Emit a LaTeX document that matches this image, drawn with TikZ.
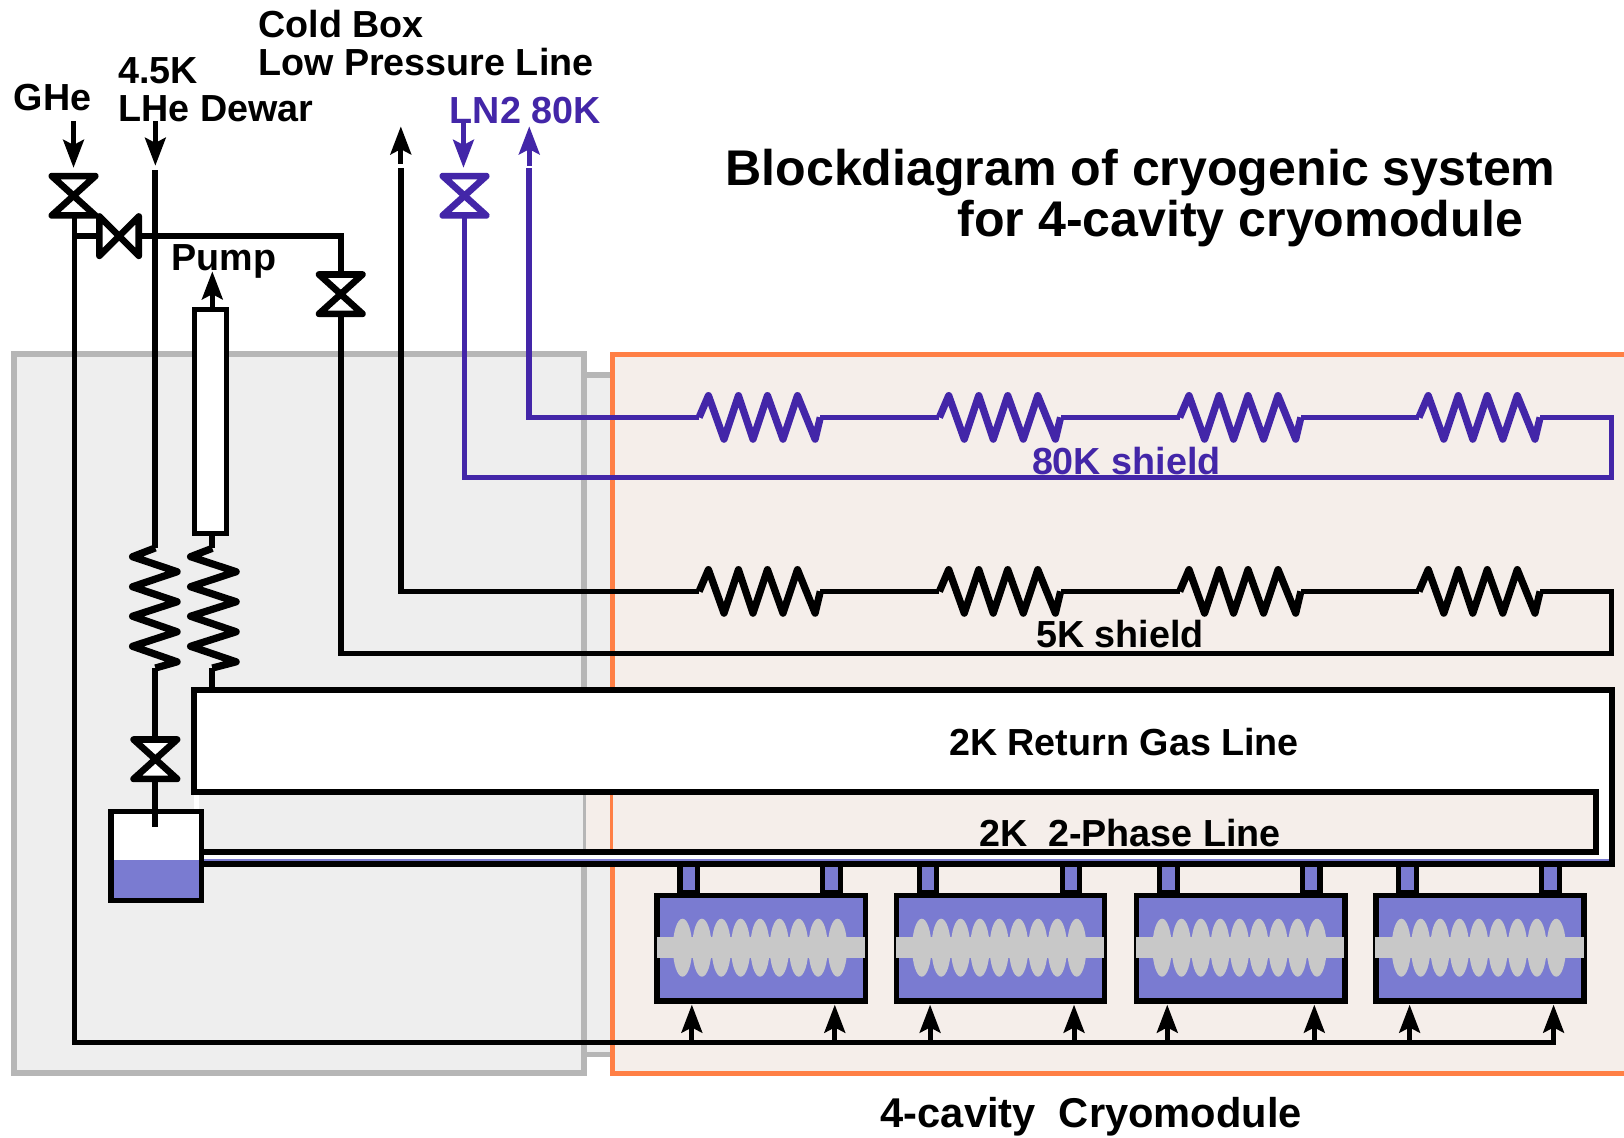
\documentclass[tikz,border=0pt]{standalone}
\usepackage{fontspec}
\setmainfont{Liberation Sans}[BoldFont={Liberation Sans Bold}]
\usetikzlibrary{arrows.meta}
\definecolor{cgray}{HTML}{B6B6B6}
\definecolor{cgrayfill}{HTML}{EEEEEE}
\definecolor{corange}{HTML}{FF7F45}
\definecolor{corangefill}{HTML}{F5EEEA}
\definecolor{cpurple}{HTML}{4326A8}
\definecolor{cblue}{HTML}{7A7BD1}
\definecolor{ccav}{HTML}{C8C8C8}
\tikzset{
  box/.style={outer sep=0pt,inner sep=0pt},
  pipe/.style={line width=2.8pt,line join=miter,line cap=rect},
  heavy/.style={line width=2.9pt,line join=miter,line cap=rect},
  coil/.style={line width=3.5pt,line join=round,line cap=butt},
  flow/.style={line width=2.4pt,-{Stealth[length=13.5pt,width=10pt,inset=2.5pt]}},
  lbl/.style={inner sep=0pt,anchor=west,font=\fontsize{18.2}{20}\selectfont\bfseries,text=black},
  ttl/.style={inner sep=0pt,anchor=west,font=\fontsize{24.2}{28}\selectfont\bfseries,text=black},
  vvalve/.pic={\draw[line width=3.2pt,fill=white,line join=round,pic actions] (-21,-19)--(21,-19)--(-21,19)--(21,19)--cycle;},
  hvalve/.pic={\draw[line width=3.2pt,fill=white,line join=round,pic actions] (-19,-19)--(-19,19)--(19,-19)--(19,19)--cycle;},
}
\newcommand{\shieldcoil}[3]{% x start, y mid, colour
  \draw[coil,#3] (#1,#2)--++(9,-21)--++(15,42)--++(14,-42)--++(14,42)--++(14,-42)--++(15,42)--++(14,-42)--++(17,42)--++(5,-21);}
\newcommand{\cryounit}[2]{% name, x left
  \node[box,draw=black,line width=2.5pt,fill=cblue,minimum width=8.5pt,minimum height=14pt,anchor=south] (#1s1) at (#2+33,862) {};
  \node[box,draw=black,line width=2.5pt,fill=cblue,minimum width=8.5pt,minimum height=14pt,anchor=south] (#1s2) at (#2+171,862) {};
  \node[box,draw=black,line width=2.6pt,fill=cblue,minimum width=100.5pt,minimum height=51pt,anchor=north west] (#1) at (#2+2.5,864.5) {};
  \foreach \k in {0,...,8}{\fill[ccav] (#2+27+18.7*\k,915) ellipse [x radius=9.3,y radius=28];}
  \fill[ccav] (#2+2,905) rectangle (#2+203,925);
}
\begin{document}
\begin{tikzpicture}[x=0.5pt,y=-0.5pt]
\useasboundingbox (0,0) rectangle (1568,1098);
\fill[white] (0,0) rectangle (1568,1098);
% enclosures
\node[box,draw=cgray,line width=2.6pt,fill=cgrayfill,minimum width=30pt,minimum height=328pt,anchor=north west] (link) at (534,362) {};
\node[box,draw=cgray,line width=2.8pt,fill=cgrayfill,minimum width=275.25pt,minimum height=347pt,anchor=north west] (coldbox) at (13.5,342) {};
\fill[corangefill] (591,342) rectangle (1568,1036);
\draw[corange,line width=2.4pt] (1568,342)--(591,342)--(591,1036)--(1568,1036);
% coordinates
\coordinate (ghein) at (71,117);
\coordinate (ghetip) at (71,162);
\coordinate (vg) at (71,189);
\coordinate (vh) at (115,228);
\coordinate (vs) at (329,284);
\coordinate (vl) at (150,733);
\coordinate (vn) at (448.5,189);
\coordinate (hdin) at (150,117);
\coordinate (hdtip) at (150,160);
\coordinate (lnin) at (447.5,117);
\coordinate (lntip) at (447.5,162);
% 2K lines
\fill[white] (187,666)--(1556,666)--(1556,834)--(187,834)--cycle;
\fill[corangefill] (591,765) rectangle (1541,823);
\fill[cgrayfill] (192,765) rectangle (564,823);
\fill[cgray] (562.5,765) rectangle (565.5,823);
\fill[corangefill] (565.5,765) rectangle (590,823);
\fill[corange] (589,765) rectangle (592,823);
\fill[cblue] (192,829) rectangle (1554,832);
% cryo units
\cryounit{cmA}{632}
\cryounit{cmB}{863}
\cryounit{cmC}{1095}
\cryounit{cmD}{1326}
% 2K strokes
\draw[heavy] (192,834) -- (1556,834) -- (1556,666) -- (187,666) -- (187,765) -- (1541,765) -- (1541,823) -- (192,823);
% tank
\fill[white] (107,783) rectangle (192,830);
\fill[cblue] (107,830) rectangle (192,869);
\node[box,draw=black,line width=2.8pt,minimum width=43.5pt,minimum height=43pt,anchor=north west] (tank) at (107.5,783.5) {};
% feed line
\coordinate (feedtop) at (72,212);
\coordinate (feedcorner) at (72,1007);
\coordinate (feedend) at (1500,1007);
\draw[pipe,line width=2.4pt] (feedtop) -- (feedcorner) -- (feedend);
\draw[pipe] (72,228) -- (vh);
\foreach \x/\n in {668/a,806/b,898/c,1037/d,1127/e,1269/f,1361/g,1500/h}{
  \coordinate (f\n) at (\x,1007);
  \coordinate (t\n) at (\x,970);
  \draw[flow] (f\n) -- (t\n);
}
% valve line
\coordinate (c1) at (329,228);
\coordinate (c2) at (329,631);
\coordinate (c3) at (1556,631);
\coordinate (c4) at (1556,571);
\coordinate (c5) at (387,571);
\coordinate (c6) at (387,165);
\coordinate (c7) at (387,158);
\coordinate (c8) at (387,122);
\draw[pipe] (vh) -- (c1) -- (c2) -- (c3) -- (c4) -- (c5) -- (c6);
\draw[flow] (c7) -- (c8);
\foreach \x in {675,907,1139,1370}{
  \fill[corangefill] (\x,540) rectangle (\x+117,600);
  \shieldcoil{\x}{571}{black}
}
% helium line and coils
\coordinate (lhe1) at (150,167);
\coordinate (lhe2) at (150,529);
\draw[pipe] (lhe1) -- (lhe2);
\fill[cgrayfill] (120,529) rectangle (236,645);
\draw[coil] (lhe2)--(128,537.5)--(171,552)--(128,566.5)--(171,581)--(128,595)--(171,610)--(128,624)--(171,639)--(150,645);
\draw[pipe,line cap=butt] (150,645) -- (vl) -- (150,798);
\draw[coil] (205,529.4)--(184,537.5)--(228,552)--(184,566.5)--(228,581)--(184,595)--(228,610)--(184,624)--(228,639)--(205,645);
\draw[pipe,line cap=butt] (205,515)--(205,529.4);
\draw[pipe,line cap=butt] (205,645)--(205,666);
\node[box,draw=black,line width=2.6pt,fill=white,minimum width=15.5pt,minimum height=108pt,anchor=north] (pump) at (203,299) {};
\coordinate (pumpout) at (205,299);
\coordinate (pumptip) at (205,262);
\draw[flow] (pumpout) -- (pumptip);
\draw[flow] (ghein) -- (ghetip);
\draw[flow] (hdin) -- (hdtip);
% valves
\pic at (vg) {vvalve};
\pic at (vh) {hvalve};
\pic at (vs) {vvalve};
\pic at (vl) {vvalve};
% LN2
\coordinate (n1) at (448.5,461);
\coordinate (n2) at (1556,461);
\coordinate (n3) at (1556,403);
\coordinate (n4) at (511,403);
\coordinate (n5) at (511,165);
\coordinate (n6) at (511,160);
\coordinate (n7) at (511,122);
\draw[pipe,cpurple] (vn) -- (n1) -- (n2) -- (n3) -- (n4) -- (n5);
\draw[flow,cpurple] (n6) -- (n7);
\foreach \x in {675,907,1139,1370}{
  \fill[corangefill] (\x,372) rectangle (\x+117,432);
  \shieldcoil{\x}{403}{cpurple}
}
\draw[flow,cpurple] (lnin) -- (lntip);
\pic[cpurple] at (vn) {vvalve};
% labels
\node[lbl] (tGHe) at (13,94) {GHe};
\node[lbl] (t45) at (114,68) {4.5K};
\node[lbl] (tLHe) at (114,105) {LHe Dewar};
\node[lbl] (tCB) at (249,23) {Cold Box};
\node[lbl] (tLP) at (249,60) {Low Pressure Line};
\node[lbl,text=cpurple] (tLN) at (434,107) {LN2 80K};
\node[lbl] (tP) at (165,252) {Pump};
\node[ttl] (tT1) at (700,167) {Blockdiagram of cryogenic system};
\node[ttl] (tT2) at (924,216) {for 4-cavity cryomodule};
\node[lbl,text=cpurple] (t80) at (996,445) {80K shield};
\node[lbl] (t5) at (1000,612) {5K shield};
\node[lbl] (t2r) at (916,716) {2K Return Gas Line};
\node[lbl] (t2p) at (945,804) {2K\ \ 2-Phase Line};
\node[lbl,font=\fontsize{20.1}{22}\selectfont\bfseries] (tCM) at (850,1078) {4-cavity\ \ Cryomodule};
\end{tikzpicture}
\end{document}
